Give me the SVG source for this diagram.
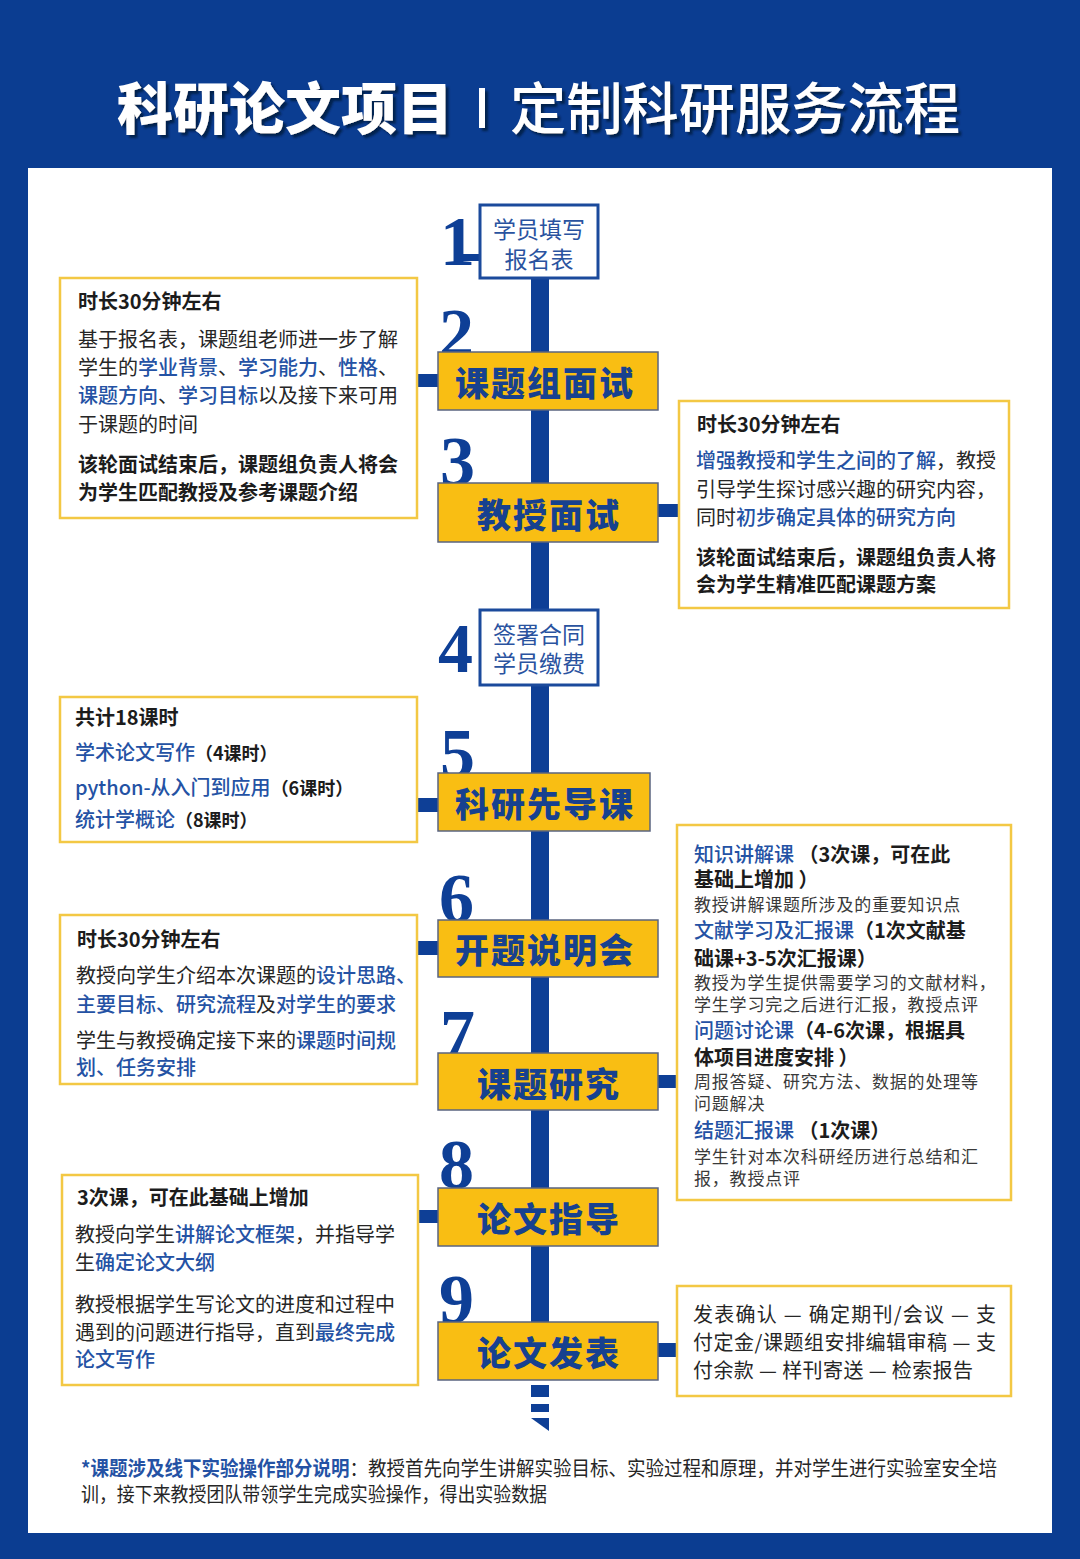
<svg xmlns="http://www.w3.org/2000/svg" width="1080" height="1559" viewBox="0 0 1080 1559">
<defs>
<filter id="sh" x="-5%" y="-20%" width="110%" height="140%"><feDropShadow dx="3" dy="3" stdDeviation="1" flood-color="#061a44" flood-opacity="0.9"/></filter>
<style>
.cjk{font-family:"Noto Sans CJK SC","Noto Sans",sans-serif}
.title{fill:#fff;font-size:56px}
.num{font-family:"Liberation Serif","DejaVu Serif",serif;font-weight:bold;font-size:70px;fill:#0E3F96}
.ybox{fill:#F9BE13;stroke:#5A6480;stroke-width:1.5}
.wbox{fill:#fff;stroke:#1B4A9C;stroke-width:3}
.ibox{fill:#fff;stroke:#F3C844;stroke-width:2.5}
.ylab{font-family:"Noto Sans CJK SC",sans-serif;font-weight:900;font-size:34px;fill:#17418F;text-anchor:middle;letter-spacing:2px}
.wlab{font-family:"Noto Sans CJK SC",sans-serif;font-size:23px;fill:#2A539F;text-anchor:middle}
.t{font-family:"Noto Sans CJK SC",sans-serif;font-size:20px;fill:#262626}
.s{font-size:17px;fill:#3a3a3a;letter-spacing:0.8px}
.b{font-weight:bold;fill:#1c1c1c}
.bl{fill:#2452A4;font-weight:500}
.bar{fill:#0E3F96}
</style>
</defs>
<rect width="1080" height="1559" fill="#0B3D91"/>
<rect x="28" y="168" width="1024" height="1365" fill="#fff"/>
<g id="title" filter="url(#sh)">
<text class="cjk title" x="117" y="129" font-weight="900" textLength="336" lengthAdjust="spacingAndGlyphs">科研论文项目</text>
<rect x="479" y="88" width="6" height="40" fill="#fff"/>
<text class="cjk title" x="510" y="129" font-weight="500" textLength="450" lengthAdjust="spacingAndGlyphs">定制科研服务流程</text>
</g>
<g id="connectors">
<rect class="bar" x="531" y="278" width="18" height="1047"/>
<rect class="bar" x="531" y="1385" width="18" height="12"/>
<rect class="bar" x="531" y="1404" width="18" height="8"/>
<polygon class="bar" points="531,1418 549,1418 549,1431"/>
<rect class="bar" x="462" y="254" width="18" height="7"/>
<rect class="bar" x="418" y="374" width="21" height="13"/>
<rect class="bar" x="658" y="504" width="22" height="13"/>
<rect class="bar" x="418" y="798" width="21" height="14"/>
<rect class="bar" x="418" y="941" width="21" height="14"/>
<rect class="bar" x="658" y="1075" width="20" height="13"/>
<rect class="bar" x="418" y="1210" width="21" height="13"/>
<rect class="bar" x="658" y="1343" width="20" height="14"/>
</g>
<g id="numbers">
<text class="num" x="440" y="265">1</text>
<text class="num" x="439" y="357">2</text>
<text class="num" x="440" y="485">3</text>
<text class="num" x="438" y="672">4</text>
<text class="num" x="440" y="777">5</text>
<text class="num" x="439" y="922">6</text>
<text class="num" x="440" y="1058">7</text>
<text class="num" x="439" y="1188">8</text>
<text class="num" x="439" y="1323">9</text>
</g>
<g id="step1"><rect class="wbox" x="480" y="205" width="118" height="73"/><text class="wlab" x="539" y="238">学员填写</text><text class="wlab" x="539" y="268">报名表</text></g>
<g id="step2"><rect class="ybox" x="438" y="352" width="220" height="58"/><text class="ylab" x="545" y="396">课题组面试</text></g>
<g id="step3"><rect class="ybox" x="438" y="483" width="220" height="59"/><text class="ylab" x="549" y="528">教授面试</text></g>
<g id="step4"><rect class="wbox" x="480" y="610" width="118" height="75"/><text class="wlab" x="539" y="643">签署合同</text><text class="wlab" x="539" y="672">学员缴费</text></g>
<g id="step5"><rect class="ybox" x="438" y="773" width="212" height="58"/><text class="ylab" x="545" y="817">科研先导课</text></g>
<g id="step6"><rect class="ybox" x="438" y="920" width="220" height="57"/><text class="ylab" x="545" y="963">开题说明会</text></g>
<g id="step7"><rect class="ybox" x="438" y="1053" width="220" height="57"/><text class="ylab" x="549" y="1097">课题研究</text></g>
<g id="step8"><rect class="ybox" x="438" y="1188" width="220" height="58"/><text class="ylab" x="549" y="1232">论文指导</text></g>
<g id="step9"><rect class="ybox" x="438" y="1322" width="220" height="58"/><text class="ylab" x="549" y="1366">论文发表</text></g>
<g id="info2">
<rect class="ibox" x="60" y="278" width="357" height="240"/>
<text class="t b" x="78" y="309">时长30分钟左右</text>
<text class="t" x="78" y="347">基于报名表，课题组老师进一步了解</text>
<text class="t" x="78" y="375">学生的<tspan class="bl">学业背景</tspan>、<tspan class="bl">学习能力</tspan>、<tspan class="bl">性格</tspan>、</text>
<text class="t" x="78" y="403"><tspan class="bl">课题方向</tspan>、<tspan class="bl">学习目标</tspan>以及接下来可用</text>
<text class="t" x="78" y="432">于课题的时间</text>
<text class="t b" x="78" y="472">该轮面试结束后，课题组负责人将会</text>
<text class="t b" x="78" y="500">为学生匹配教授及参考课题介绍</text>
</g>
<g id="info3">
<rect class="ibox" x="679" y="401" width="330" height="207"/>
<text class="t b" x="697" y="432">时长30分钟左右</text>
<text class="t" x="696" y="468"><tspan class="bl">增强教授和学生之间的了解</tspan>，教授</text>
<text class="t" x="696" y="497">引导学生探讨感兴趣的研究内容，</text>
<text class="t" x="696" y="525">同时<tspan class="bl">初步确定具体的研究方向</tspan></text>
<text class="t b" x="696" y="565">该轮面试结束后，课题组负责人将</text>
<text class="t b" x="696" y="592">会为学生精准匹配课题方案</text>
</g>
<g id="info5">
<rect class="ibox" x="60" y="697" width="357" height="145"/>
<text class="t b" x="75" y="725">共计18课时</text>
<text class="t" x="75" y="760" font-size="21"><tspan class="bl">学术论文写作</tspan><tspan class="b" font-size="18">（4课时）</tspan></text>
<text class="t" x="75" y="795" font-size="21"><tspan class="bl">python-从入门到应用</tspan><tspan class="b" font-size="18">（6课时）</tspan></text>
<text class="t" x="75" y="827" font-size="21"><tspan class="bl">统计学概论</tspan><tspan class="b" font-size="18">（8课时）</tspan></text>
</g>
<g id="info6">
<rect class="ibox" x="60" y="915" width="357" height="169"/>
<text class="t b" x="77" y="947">时长30分钟左右</text>
<text class="t" x="76" y="983" font-size="19.2">教授向学生介绍本次课题的<tspan class="bl">设计思路、</tspan></text>
<text class="t" x="76" y="1012" font-size="19.2"><tspan class="bl">主要目标、研究流程</tspan>及<tspan class="bl">对学生的要求</tspan></text>
<text class="t" x="76" y="1048" font-size="19.2">学生与教授确定接下来的<tspan class="bl">课题时间规</tspan></text>
<text class="t" x="76" y="1075" font-size="19.2"><tspan class="bl">划、任务安排</tspan></text>
</g>
<g id="info7">
<rect class="ibox" x="677" y="825" width="334" height="375"/>
<text class="t" x="694" y="862" font-size="21.5"><tspan class="bl">知识讲解课</tspan><tspan class="b">  （3次课，可在此</tspan></text>
<text class="t b" x="694" y="887" font-size="21.5">基础上增加 ）</text>
<text class="t s" x="694" y="911">教授讲解课题所涉及的重要知识点</text>
<text class="t" x="694" y="938" font-size="21.5"><tspan class="bl">文献学习及汇报课</tspan><tspan class="b">（1次文献基</tspan></text>
<text class="t b" x="694" y="966" font-size="21.5">础课+3-5次汇报课）</text>
<text class="t s" x="694" y="989">教授为学生提供需要学习的文献材料，</text>
<text class="t s" x="694" y="1011">学生学习完之后进行汇报，教授点评</text>
<text class="t" x="694" y="1038" font-size="21.5"><tspan class="bl">问题讨论课</tspan><tspan class="b">（4-6次课，根据具</tspan></text>
<text class="t b" x="694" y="1065" font-size="21.5">体项目进度安排 ）</text>
<text class="t s" x="694" y="1088">周报答疑、研究方法、数据的处理等</text>
<text class="t s" x="694" y="1110">问题解决</text>
<text class="t" x="694" y="1138" font-size="21.5"><tspan class="bl">结题汇报课</tspan><tspan class="b"> （1次课）</tspan></text>
<text class="t s" x="694" y="1163">学生针对本次科研经历进行总结和汇</text>
<text class="t s" x="694" y="1185">报，教授点评</text>
</g>
<g id="info8">
<rect class="ibox" x="62" y="1175" width="356" height="210"/>
<text class="t b" x="77" y="1205">3次课，可在此基础上增加</text>
<text class="t" x="75" y="1242">教授向学生<tspan class="bl">讲解论文框架</tspan>，并指导学</text>
<text class="t" x="75" y="1270">生<tspan class="bl">确定论文大纲</tspan></text>
<text class="t" x="75" y="1312">教授根据学生写论文的进度和过程中</text>
<text class="t" x="75" y="1340">遇到的问题进行指导，直到<tspan class="bl">最终完成</tspan></text>
<text class="t" x="75" y="1367"><tspan class="bl">论文写作</tspan></text>
</g>
<g id="info9">
<rect class="ibox" x="677" y="1286" width="334" height="110"/>
<text class="t" x="693" y="1322" textLength="303" lengthAdjust="spacing">发表确认 — 确定期刊/会议 — 支</text>
<text class="t" x="693" y="1350" textLength="303" lengthAdjust="spacing">付定金/课题组安排编辑审稿 — 支</text>
<text class="t" x="693" y="1378" textLength="280" lengthAdjust="spacing">付余款 — 样刊寄送 — 检索报告</text>
</g>
<g id="footnote">
<text class="t" x="81" y="1476" font-size="18" textLength="916" lengthAdjust="spacingAndGlyphs"><tspan fill="#2452A4" font-weight="bold">*课题涉及线下实验操作部分说明</tspan>：教授首先向学生讲解实验目标、实验过程和原理，并对学生进行实验室安全培</text>
<text class="t" x="81" y="1502" font-size="18" textLength="466" lengthAdjust="spacingAndGlyphs">训，接下来教授团队带领学生完成实验操作，得出实验数据</text>
</g>
</svg>
